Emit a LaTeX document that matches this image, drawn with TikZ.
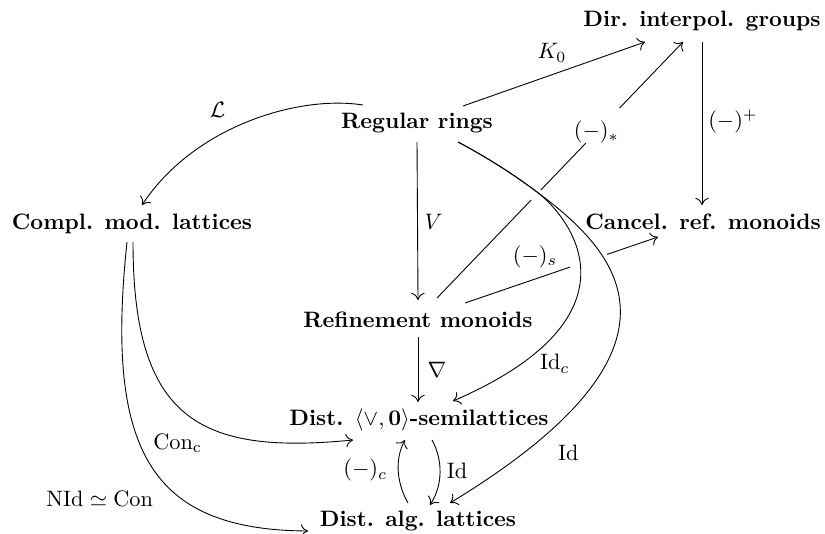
\documentclass[tikz,border=0pt]{standalone}
\usepackage{amsmath,amssymb}
\usetikzlibrary{arrows.meta}
\begin{document}
\begin{tikzpicture}[x=0.4484pt,y=-0.4484pt,
  obj/.style={anchor=base,inner sep=0pt,font=\bfseries},
  ar/.style={-{Computer Modern Rightarrow[length=3.2pt,width=6pt]},line width=0.4pt},
  ln/.style={line width=0.4pt},
  lab/.style={inner sep=0pt}]
\useasboundingbox (0,0) rectangle (825,533);
% objects
\node[obj] (dig) at (702,27) {Dir. interpol. groups};
\node[obj] (rr)  at (417,129) {Regular rings};
\node[obj] (cml) at (132,229) {Compl. mod. lattices};
\node[obj] (crm) at (703,229) {Cancel. ref. monoids};
\node[obj] (rm)  at (418,327) {Refinement monoids};
\node[obj] (ds)  at (419,425) {Dist. $\langle\vee,\mathbf{0}\rangle$-semilattices};
\node[obj] (dal) at (418,526) {Dist. alg. lattices};
% K0
\draw[ar] ([shift={(46,-23)}]rr.base) -- node[lab,shift={(-2,-21)}] (lK) {$K_0$} ([shift={(-57,15)}]dig.base);
% (-)^+
\draw[ar] ([shift={(0,15)}]dig.base) -- node[lab,shift={(31,-2)}] (lplus) {$(-)^+$} ([shift={(-1,-24)}]crm.base);
% V
\draw[ar] ([shift={(0,13)}]rr.base) -- node[lab,shift={(16,1)}] (lV) {$V$} ([shift={(0,-27)}]rm.base);
% nabla
\draw[ar] ([shift={(0,10)}]rm.base) -- node[lab,shift={(19,0)}] (lnab) {$\nabla$} ([shift={(-1,-23)}]ds.base);
% (-)_*
\path ([shift={(19,-29)}]rm.base) -- coordinate[pos=0.383] (a1) coordinate[pos=0.422] (a2)
  coordinate[pos=0.605] (a3) coordinate[pos=0.742] (a4)
  node[pos=0.648,lab] (lstar) {$(-)_*$} ([shift={(-19,15)}]dig.base);
\draw[ln] ([shift={(19,-29)}]rm.base) -- (a1);
\draw[ln] (a2) -- (a3);
\draw[ar] (a4) -- ([shift={(-19,15)}]dig.base);
% (-)_s
\path ([shift={(47,-24)}]rm.base) -- coordinate[pos=0.544] (s1) coordinate[pos=0.736] (s2)
  node[pos=0.363,lab,shift={(0,-22)}] (ls) {$(-)_s$} ([shift={(-45,8)}]crm.base);
\draw[ln] ([shift={(47,-24)}]rm.base) -- (s1);
\draw[ar] (s2) -- ([shift={(-45,8)}]crm.base);
% L
\draw[ar] ([shift={(-54,-24)}]rr.base) .. controls +(-63,-10) and +(53,-80) ..
  node[pos=0.55,lab,shift={(-19,-17)}] (lL) {$\mathcal{L}$} ([shift={(10,-24)}]cml.base);
% shared start of the two curves from Regular rings
\coordinate (J) at ([shift={(120,63)}]rr.base);
% Id_c
\draw[ar] ([shift={(41,13)}]rr.base) .. controls +(30,16) and +(-24,-18) .. (J)
  .. controls +(41,32) and +(187,-81) ..
  node[pos=0.75,lab,shift={(4,25)}] (lIdc) {$\mathrm{Id}_c$} ([shift={(34,-24)}]ds.base);
% Id (long)
\draw[ar] ([shift={(41,13)}]rr.base) .. controls +(30,16) and +(-24,-18) .. (J)
  .. controls +(78,58) and +(260,-158) ..
  node[pos=0.85,lab,shift={(24,17)}] (lId) {$\mathrm{Id}$} ([shift={(32,-23)}]dal.base);
% Con_c
\draw[ar] ([shift={(1,13)}]cml.base) .. controls +(0,178) and +(-153,15) ..
  node[pos=0.5,lab,shift={(-8,30)}] (lCon) {$\mathrm{Con}_{\mathrm{c}}$} ([shift={(-66,15)}]ds.base);
% NId = Con
\draw[ar] ([shift={(-5,13)}]cml.base) .. controls +(-22,208) and +(-158,-1) ..
  node[pos=0.6,lab,shift={(-70,10)}] (lNId) {$\mathrm{NId}\simeq\mathrm{Con}$} ([shift={(-110,5)}]dal.base);
% (-)_c
\draw[ar] ([shift={(-10,-23)}]dal.base) .. controls +(-12,-21) and +(-10,18) ..
  node[pos=0.5,lab,shift={(-33,0)}] (lc) {$(-)_c$} ([shift={(-14,15)}]ds.base);
% Id (short)
\draw[ar] ([shift={(13,15)}]ds.base) .. controls +(11,20) and +(13,-20) ..
  node[pos=0.5,lab,shift={(17,-2)}] (lId2) {$\mathrm{Id}$} ([shift={(12,-21)}]dal.base);
\end{tikzpicture}
\end{document}
